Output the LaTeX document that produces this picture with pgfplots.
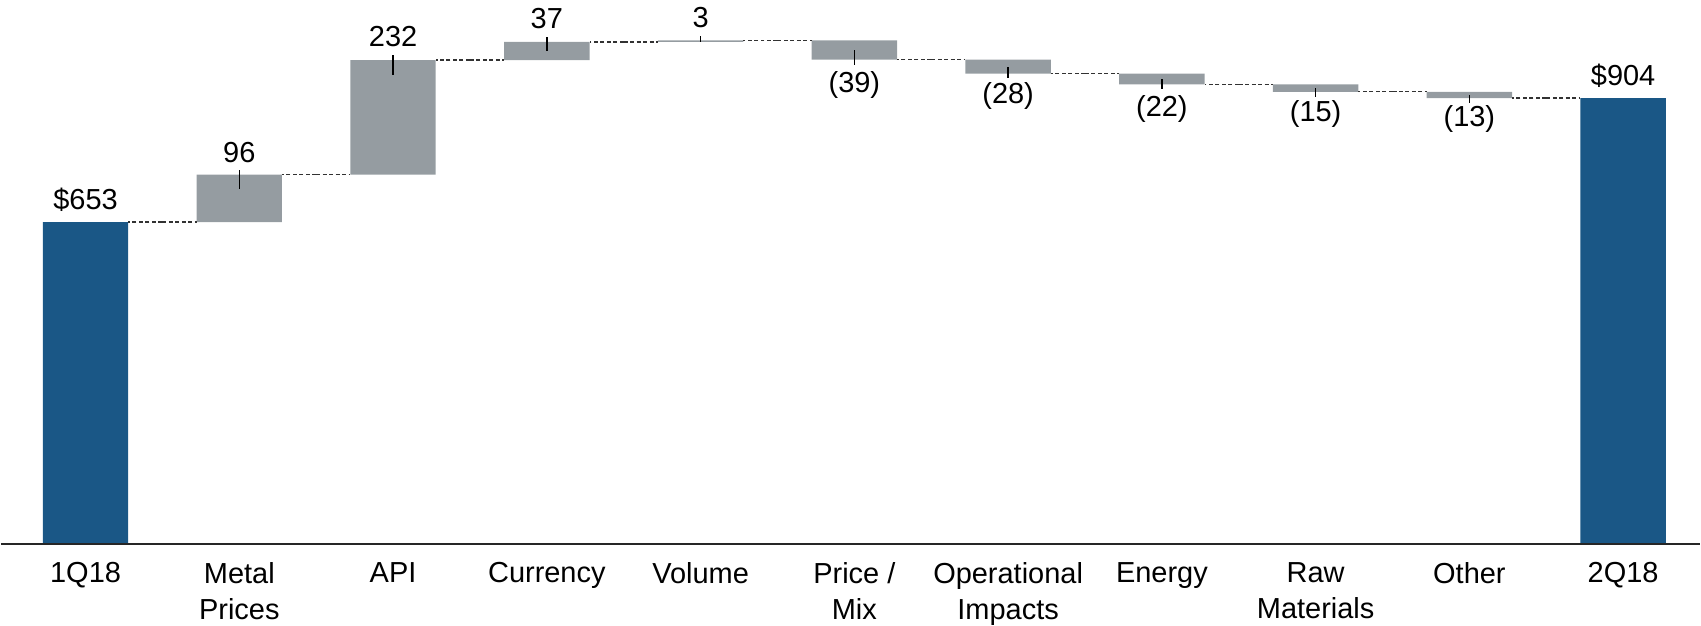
\documentclass[border=0pt]{standalone}
\usepackage{fontspec}
\setmainfont{Liberation Sans}
\usepackage{pgfplots}
\usepackage{pgfplotstable}
\pgfplotsset{compat=1.18}

\definecolor{wfblue}{RGB}{26,87,134}
\definecolor{wfgray}{RGB}{149,156,161}
\definecolor{wfdash}{RGB}{50,50,50}

% bars: invisible base, grey change, blue total
\pgfplotstableread{
x base chg tot
0 0 0 653
1 653 96 0
2 749 232 0
3 981 37 0
4 1018 3 0
5 982 39 0
6 954 28 0
7 932 22 0
8 917 15 0
9 904 13 0
10 0 0 904
}\bars

% dashed connectors between bars
\pgfplotstableread{
x lvl
0.5 653
1.5 749
2.5 981
3.5 1018
4.5 1021
5.5 982
6.5 954
7.5 932
8.5 917
9.5 904
}\links

% small pins at the value labels
\pgfplotstableread{
x y ep em
1 749 10 30
2 981 10 30
3 1018 10 18
4 1021 10 3
5 982 19 10
6 954 14 10
7 932 11 10
8 917 7 10
9 904 6 10
}\pins

\pgfplotstableread{
x ly lab
0 678 {\$653}
1 773 96
2 1009 232
3 1046 37
4 1047 3
5 915 (39)
6 894 (28)
7 867 (22)
8 857 (15)
9 847 (13)
10 929 {\$904}
}\labels

\begin{document}
\begin{tikzpicture}
\begin{axis}[
    scale only axis, width=510.5pt, height=163.5pt,
    xmin=-0.55, xmax=10.5, ymin=0, ymax=1103,
    clip=false, axis on top,
    axis x line=bottom, axis y line=left,
    x axis line style={-, line width=0.6pt, draw=black!85},
    y axis line style={draw=none},
    xtick={0,...,10}, major tick length=0pt, ytick=\empty,
    xticklabels={1Q18, {Metal\\Prices}, API, Currency, Volume, {Price /\\Mix},
        {Operational\\Impacts}, Energy, {Raw\\Materials}, Other, 2Q18},
    xticklabel style={align=center, anchor=north, inner sep=0pt, yshift=-5.3pt,
        font=\fontsize{8.7}{10.85}\selectfont},
]
\addplot[ybar stacked, bar shift=0pt, bar width=0.555, draw=none, fill=none]
    table[x=x, y=base] {\bars};
\addplot[ybar stacked, bar shift=0pt, bar width=0.555, draw=none, fill=wfgray]
    table[x=x, y=chg] {\bars};
\addplot[ybar stacked, bar shift=0pt, bar width=0.555, draw=none, fill=wfblue]
    table[x=x, y=tot] {\bars};

\addplot[draw=none, mark=none, error bars/.cd, x dir=both, x fixed=0.2225,
    error mark=none,
    error bar style={draw=wfdash, line width=0.42pt, dash pattern=on 1.2pt off 0.75pt}]
    table[x=x, y=lvl] {\links};

\addplot[draw=none, mark=none, error bars/.cd, y dir=both, y explicit,
    error mark=none, error bar style={draw=black, line width=0.45pt}]
    table[x=x, y=y, y error plus=ep, y error minus=em] {\pins};

\addplot[draw=none, mark=none, nodes near coords, point meta=explicit symbolic,
    nodes near coords style={anchor=base, inner sep=0pt, text=black,
        font=\fontsize{8.7}{10.85}\selectfont}]
    table[x=x, y=ly, meta=lab] {\labels};
\end{axis}
\end{tikzpicture}
\end{document}
